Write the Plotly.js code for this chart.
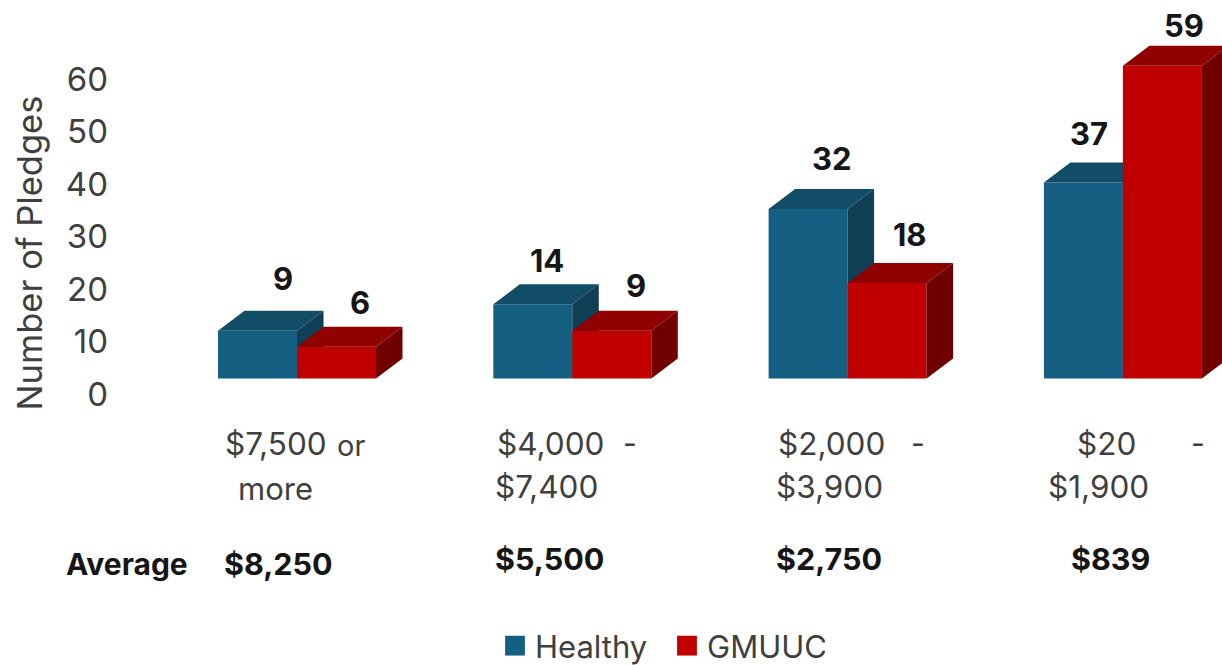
<!DOCTYPE html>
<html>
<head>
<meta charset="utf-8">
<script src="https://cdn.plot.ly/plotly-3.0.1.min.js"></script>
<style>html,body{margin:0;padding:0;background:#fff}#chart{width:1222px;height:665px}</style>
</head>
<body>
<div id="chart"></div>
<script>
// ---- data ----
const categories = ["$7,500 or more", "$4,000 - $7,400", "$2,000 - $3,900", "$20 - $1,900"];
const healthy = [9, 14, 32, 37];
const gmuuc = [6, 9, 18, 59];
const averages = ["$8,250", "$5,500", "$2,750", "$839"];
const yTicks = [0, 10, 20, 30, 40, 50, 60];

// ---- page geometry (pixels) ----
const W = 1222, H = 665;
const pxPerCat = 275.3, firstCentre = 297, barPxPerUnit = 5.3, tickPxPerUnit = 5.25;
const frontBase = 378.5, tickZero = 394;
const barW = 79 / pxPerCat, dx = 26.5 / pxPerCat, dy = 20 / barPxPerUnit;
const idx = categories.map((_, i) => i);
const xRange = [-firstCentre / pxPerCat, (W - firstCentre) / pxPerCat];
const barYRange = [-(H - frontBase) / barPxPerUnit, frontBase / barPxPerUnit];

// 3-D faces computed from the values
function topFaces(vals, off) {
  const x = [], y = [];
  vals.forEach((v, i) => {
    const a = i + off, b = a + barW;
    x.push(a, b, b + dx, a + dx, a, null);
    y.push(v, v, v + dy, v + dy, v, null);
  });
  return {x, y};
}
function sideFaces(vals, off) {
  const x = [], y = [];
  vals.forEach((v, i) => {
    const b = i + off + barW;
    x.push(b, b, b + dx, b + dx, b, null);
    y.push(0, v, v + dy, dy, 0, null);
  });
  return {x, y};
}
function series(name, vals, off, front, top, side, yaxis) {
  const t = topFaces(vals, off), s = sideFaces(vals, off);
  const face = (d, c) => ({type: "scatter", mode: "none", fill: "toself", fillcolor: c, x: d.x, y: d.y,
    xaxis: "x", yaxis, showlegend: false, hoverinfo: "skip"});
  return [
    {type: "bar", name, x: idx, y: vals, offset: off, width: barW, marker: {color: front, line: {width: 0}},
     xaxis: "x", yaxis},
    face(t, top), face(s, side)
  ];
}

const traces = [
  // carrier of the visible value axis
  {type: "scatter", mode: "none", x: [0, 0], y: [yTicks[0], yTicks[yTicks.length - 1]], xaxis: "x", yaxis: "y",
   showlegend: false, hoverinfo: "skip"},
  ...series("Healthy", healthy, -barW, "#156082", "#124D68", "#0F3F54", "y2"),
  ...series("GMUUC", gmuuc, 0, "#C00000", "#8F0000", "#700000", "y3")
];

// ---- text ----
const dark = "#3F3F3F", ink = "#161616", face = "Inter, 'Noto Sans', sans-serif";
const annotations = [];
function pageText(text, cx, cy, size, color, weight) {
  annotations.push({xref: "paper", yref: "paper", x: cx / W, y: 1 - cy / H, xanchor: "center", yanchor: "middle",
    text, showarrow: false, font: {family: face, size, color, weight: weight || 400}});
}
// value labels, anchored to the value of each bar
const nudgeH = [[25, -32], [14, -24], [24, -30], [6, -29]];
const nudgeG = [[23, -24], [24, -25], [23, -29], [22, -20]];
function valueLabel(i, off, v, yref, n) {
  annotations.push({xref: "x", yref, x: i + off + barW / 2, y: v + dy, xshift: n[0], yshift: -n[1],
    xanchor: "center", yanchor: "middle", text: String(v), showarrow: false,
    font: {family: face, size: 31, color: ink, weight: 700}});
}
idx.forEach(i => {
  valueLabel(i, -barW, healthy[i], "y2", nudgeH[i]);
  valueLabel(i, 0, gmuuc[i], "y3", nudgeG[i]);
});
// range labels as they sit on the slide
pageText("$7,500", 276, 443, 31.5, dark);
pageText("or", 351, 445, 29, dark);
pageText("more", 275, 488, 31, dark);
pageText("$4,000", 550, 443, 31.5, dark);
pageText("-", 630, 443, 30, dark);
pageText("$7,400", 546, 486, 31.5, dark);
pageText("$2,000", 831, 443, 31.5, dark);
pageText("-", 918, 443, 30, dark);
pageText("$3,900", 829, 486, 31.5, dark);
pageText("$20", 1106, 443, 31.5, dark);
pageText("-", 1198, 443, 30, dark);
pageText("$1,900", 1098, 486, 31.5, dark);
// averages row
pageText("Average", 127, 564, 30, ink, 700);
pageText(averages[0], 278, 563, 30.5, ink, 700);
pageText(averages[1], 549, 558, 30.5, ink, 700);
pageText(averages[2], 829, 558, 30.5, ink, 700);
pageText(averages[3], 1110, 558, 30.5, ink, 700);

const hiddenY = {visible: false, range: barYRange, fixedrange: true};
const layout = {
  width: W, height: H, margin: {l: 0, r: 0, t: 0, b: 0, pad: 0, autoexpand: false},
  paper_bgcolor: "#fff", plot_bgcolor: "rgba(0,0,0,0)",
  font: {family: face, color: dark},
  barmode: "overlay", showlegend: true, hovermode: false,
  xaxis: {visible: false, range: xRange, domain: [0, 1], fixedrange: true},
  yaxis: {
    domain: [1 - 427 / H, 1 - 79 / H], range: [-(427 - tickZero) / tickPxPerUnit, yTicks[yTicks.length - 1]],
    anchor: "free", position: 108 / W, tickvals: yTicks, ticktext: yTicks.map(String),
    ticks: "", showgrid: false, zeroline: false, showline: false, fixedrange: true,
    tickfont: {family: face, size: 33, color: dark},
    title: {text: "Number of Pledges", standoff: 11, font: {family: face, size: 34.5, color: dark}}
  },
  yaxis2: Object.assign({domain: [0, 1], anchor: "x"}, hiddenY),
  yaxis3: Object.assign({overlaying: "y2", anchor: "x"}, hiddenY),
  legend: {orientation: "h", x: 495 / W, xanchor: "left", y: 1 - 646 / H, yanchor: "middle", entrywidth: 127, entrywidthmode: "pixels",
    font: {family: face, size: 31, color: dark}, bgcolor: "rgba(0,0,0,0)", borderwidth: 0, itemclick: false, itemdoubleclick: false},
  annotations
};
Plotly.newPlot("chart", traces, layout, {displayModeBar: false, staticPlot: true, responsive: false}).then(() => {
  document.querySelectorAll(".legend .legendbar path, .legend .legendpoints path").forEach(p => {
    const t = p.getAttribute("transform") || "";
    p.setAttribute("transform", t + " scale(1.65)");
  });
});
</script>
</body>
</html>
